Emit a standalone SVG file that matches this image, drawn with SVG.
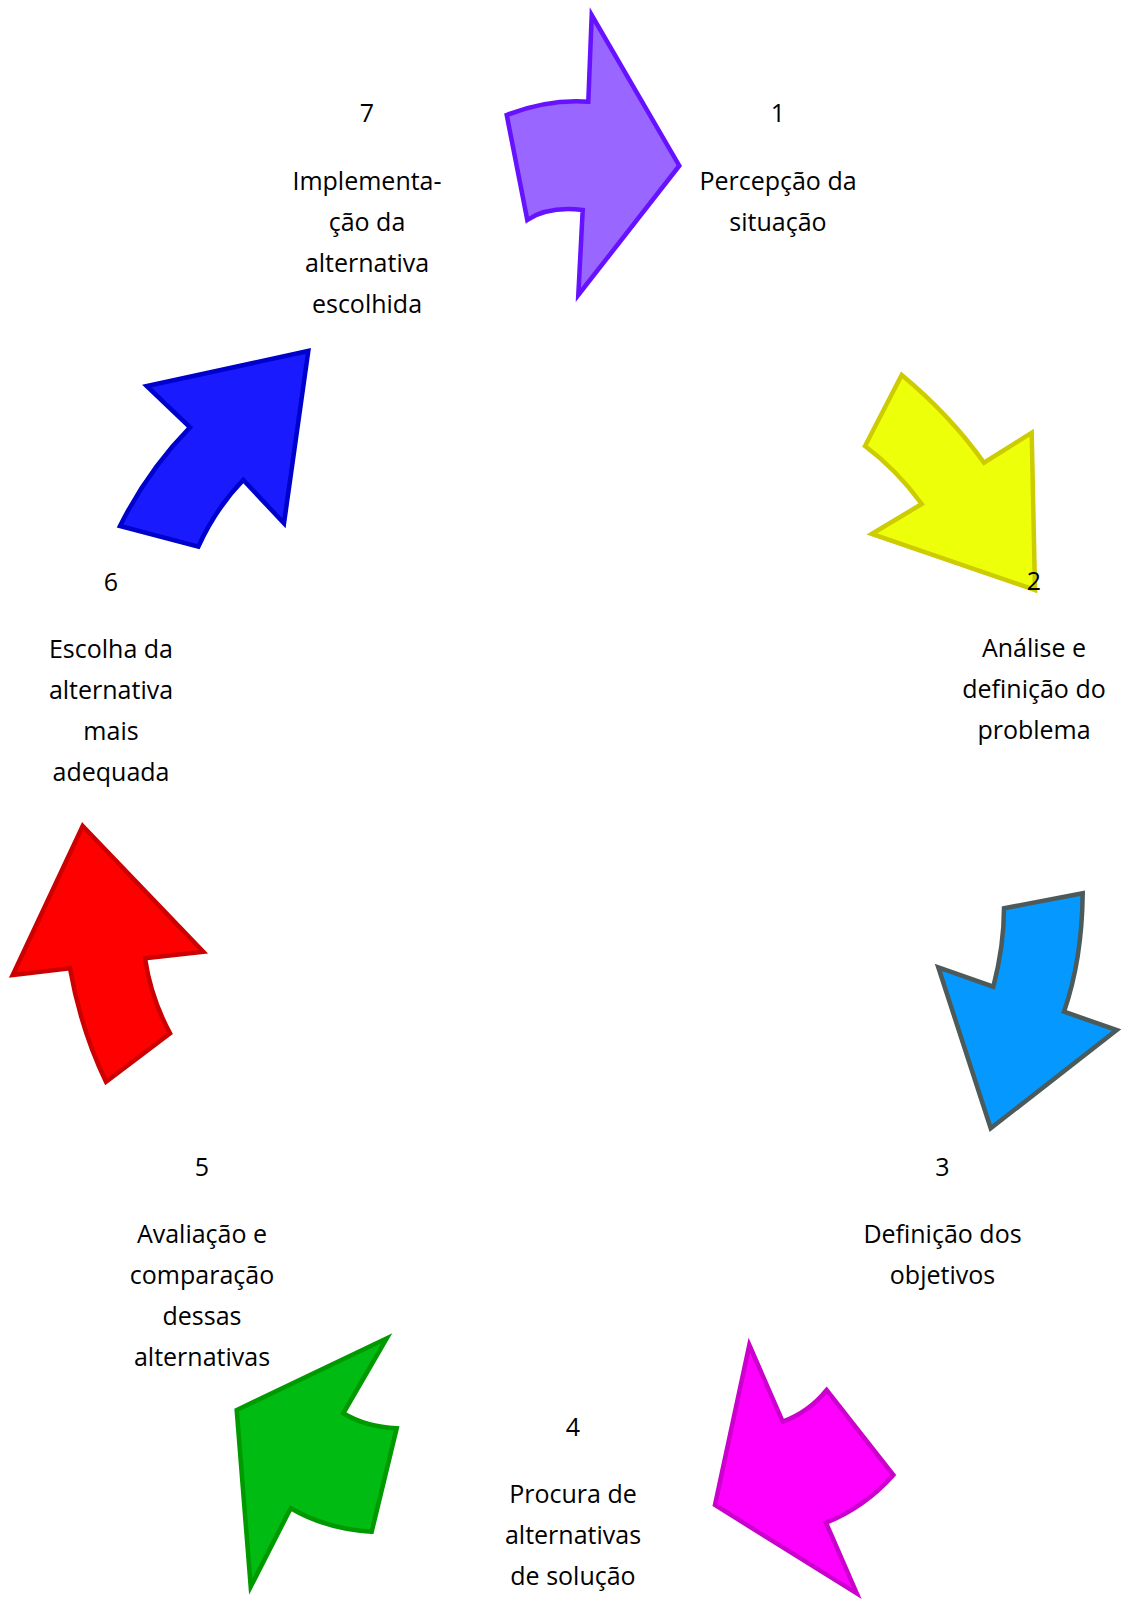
<svg xmlns="http://www.w3.org/2000/svg" width="1123" height="1600" viewBox="0 0 1123 1600">
<style>
.arrow{stroke-width:4.5;stroke-linejoin:miter}
.t{font-family:"Open Sans","Noto Sans",sans-serif;font-size:25px;fill:#000;text-anchor:middle}
</style>
<rect width="1123" height="1600" fill="#fff"/>
<g id="connectors">
<path id="a1" class="arrow" fill="#9966ff" stroke="#6611ff" d="M506.7,115 Q548,99 588.3,101.7 L591.7,15 L679.3,165.7 L578.3,295 L582.7,210 Q548,206 527.3,220 Z"/>
<path id="a2" class="arrow" fill="#eeff0a" stroke="#cccc00" d="M901.7,375 Q950,415 984,462.7 L1031.7,432.7 L1035,590 L871.7,534 L921.7,504 Q897,470 865,446 Z"/>
<path id="a3" class="arrow" fill="#0599ff" stroke="#4d5a5a" d="M1004,908.3 L1082.7,893.3 Q1082,960 1064,1011.7 L1116.7,1030 L990.7,1128.3 L938.3,967.3 L993.3,986.7 Q1004,946 1004,908.3 Z"/>
<path id="a4" class="arrow" fill="#ff00ff" stroke="#cc00cc" d="M749.3,1345 L782.7,1421.7 Q809,1412 826.7,1390 L893.3,1475 Q865,1507 826,1522.7 L856.7,1593.3 L715,1505 Z"/>
<path id="a5" class="arrow" fill="#00bb11" stroke="#009900" d="M386.7,1338.3 L343.3,1413.3 Q366,1427 396.7,1428.3 L371.7,1531.7 Q326,1529 290.7,1508.3 L250.7,1586.7 L236.7,1410 Z"/>
<path id="a6" class="arrow" fill="#ff0000" stroke="#cc0000" d="M82.7,826 L203.3,951.7 L145,958.3 Q151,998 170,1033.3 L106,1081.7 Q81,1030 70,968.3 L12.7,975 Z"/>
<path id="a7" class="arrow" fill="#1a1aff" stroke="#0000cc" d="M308.3,351 L284,523.3 L243.3,480 Q216,508 198.3,546.7 L120,526 Q148,470 190,427.3 L146.7,386 Z"/>
</g>
<g id="n1"><text class="t" x="778" y="122">1</text><text class="t" x="778" y="190">Percepção da</text><text class="t" x="778" y="231">situação</text></g>
<g id="n2"><text class="t" x="1034" y="590">2</text><text class="t" x="1034" y="657">Análise e</text><text class="t" x="1034" y="698">definição do</text><text class="t" x="1034" y="739">problema</text></g>
<g id="n3"><text class="t" x="942.5" y="1176">3</text><text class="t" x="942.5" y="1243">Definição dos</text><text class="t" x="942.5" y="1284">objetivos</text></g>
<g id="n4"><text class="t" x="573" y="1436">4</text><text class="t" x="573" y="1503">Procura de</text><text class="t" x="573" y="1544">alternativas</text><text class="t" x="573" y="1585">de solução</text></g>
<g id="n5"><text class="t" x="202" y="1176">5</text><text class="t" x="202" y="1243">Avaliação e</text><text class="t" x="202" y="1284">comparação</text><text class="t" x="202" y="1325">dessas</text><text class="t" x="202" y="1366">alternativas</text></g>
<g id="n6"><text class="t" x="111" y="591">6</text><text class="t" x="111" y="658">Escolha da</text><text class="t" x="111" y="699">alternativa</text><text class="t" x="111" y="740">mais</text><text class="t" x="111" y="781">adequada</text></g>
<g id="n7"><text class="t" x="367" y="122">7</text><text class="t" x="367" y="190">Implementa-</text><text class="t" x="367" y="231">ção da</text><text class="t" x="367" y="272">alternativa</text><text class="t" x="367" y="313">escolhida</text></g>
</svg>
